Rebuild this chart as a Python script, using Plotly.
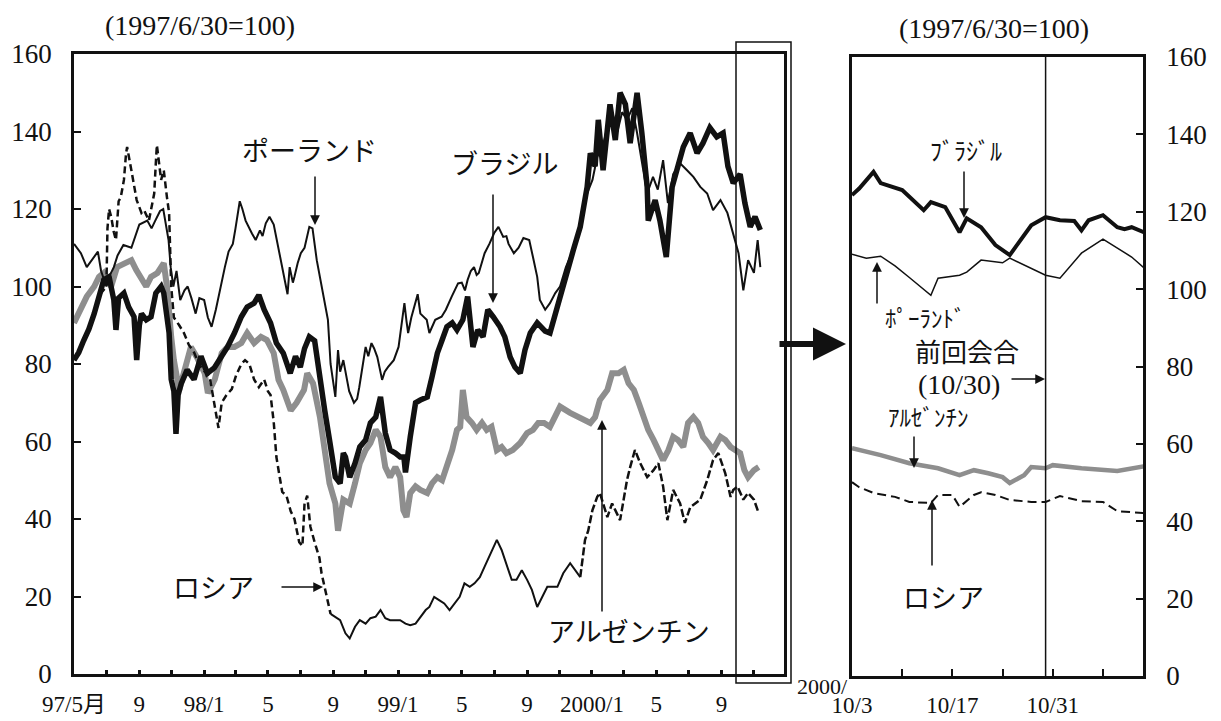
import plotly.graph_objects as go

# ---------------- data (left panel, 1997/6/30 = 100) ----------------
poland_dates = ["1997-05-01","1997-05-14","1997-05-25","1997-06-08","1997-06-15","1997-06-21","1997-07-01","1997-07-08","1997-07-15","1997-07-22","1997-08-02","1997-08-17","1997-08-25","1997-09-01","1997-09-16","1997-09-24","1997-10-01","1997-10-10","1997-10-16","1997-10-20","1997-10-26","1997-10-30","1997-11-04","1997-11-10","1997-11-17","1997-11-25","1997-12-01","1997-12-08","1997-12-16","1997-12-23","1998-01-01","1998-01-08","1998-01-15","1998-01-23","1998-02-01","1998-02-09","1998-02-16","1998-02-24","1998-03-01","1998-03-09","1998-03-14","1998-03-20","1998-04-01","1998-04-08","1998-04-16","1998-04-21","1998-04-27","1998-05-04","1998-05-12","1998-05-19","1998-05-27","1998-06-02","1998-06-07","1998-06-11","1998-06-17","1998-06-20","1998-06-26","1998-07-02","1998-07-09","1998-07-18","1998-07-24","1998-08-01","1998-08-10","1998-08-16","1998-08-22","1998-08-27","1998-09-01","1998-09-05","1998-09-10","1998-09-14","1998-09-20","1998-09-25","1998-10-01","1998-10-10","1998-10-16","1998-10-20","1998-11-01","1998-11-06","1998-11-12","1998-11-17","1998-11-23","1998-12-02","1998-12-07","1998-12-13","1998-12-24","1999-01-02","1999-01-07","1999-01-13","1999-01-17","1999-01-20","1999-01-26","1999-02-01","1999-02-07","1999-02-12","1999-02-24","1999-03-01","1999-03-07","1999-03-12","1999-03-24","1999-04-01","1999-04-12","1999-04-24","1999-05-01","1999-05-07","1999-05-12","1999-05-18","1999-05-24","1999-05-29","1999-06-02","1999-06-08","1999-06-13","1999-06-22","1999-07-01","1999-07-09","1999-07-14","1999-07-18","1999-07-24","1999-07-28","1999-08-07","1999-08-16","1999-08-25","1999-09-05","1999-09-12","1999-09-20","1999-09-25","1999-10-05","1999-10-14","1999-10-24","1999-11-02","1999-11-13","1999-11-24","1999-12-02","1999-12-13","1999-12-23","2000-01-02","2000-01-11","2000-01-21","2000-01-30","2000-02-08","2000-02-18","2000-02-27","2000-03-07","2000-03-17","2000-03-26","2000-04-04","2000-04-14","2000-04-25","2000-05-04","2000-05-14","2000-05-23","2000-06-02","2000-06-15","2000-06-28","2000-07-10","2000-07-23","2000-08-05","2000-08-16","2000-08-30","2000-09-12","2000-09-23","2000-10-03","2000-10-12","2000-10-21","2000-11-01","2000-11-08","2000-11-13"]
poland_vals = [111,108.6,105,107.6,109,104,100,103,105,108,110.7,110,113,116,117,115,117,119.5,120,117,112,105,100,104,96.5,99,100,97,93,97,96.5,92,89.6,94,100,105,109,111,115,122,120,117,113.7,112,114.5,113,116.3,118,116,111,106,101.7,98,105,101,102.5,106,108.6,110,115.4,115,106.8,100,96,91.4,80,75.9,71.5,83.6,78,81,77,73,70,71,74,84.4,82,85.4,84,81.8,75.9,78,79.2,81,84.4,90,95.7,91,88,92,94.7,98,93,91.4,88,90,91.4,92.2,94,97.4,100.8,101,99,101.7,104,105,103,103.5,106,108.6,111,113.8,115.4,114,112.8,113,111,108.6,110,112.5,112,107.6,102.5,96.5,94,95.7,98.3,100,105,108.6,112,117,124,127.5,133.5,136,141,145,140,145,143,146,139.6,132.6,124,128.3,125,132.6,121.5,129,131.8,130,128.3,125.7,124,119.7,122.3,119,113.8,108.6,99,106.8,103.5,112,105]

brazil_dates = ["1997-05-01","1997-05-10","1997-05-19","1997-05-29","1997-06-08","1997-06-17","1997-06-26","1997-07-06","1997-07-15","1997-07-19","1997-07-24","1997-08-03","1997-08-12","1997-08-22","1997-08-27","1997-09-01","1997-09-05","1997-09-14","1997-09-23","1997-10-02","1997-10-12","1997-10-17","1997-10-23","1997-10-27","1997-10-31","1997-11-05","1997-11-09","1997-11-13","1997-11-19","1997-11-30","1997-12-13","1997-12-26","1998-01-07","1998-01-20","1998-02-02","1998-02-14","1998-02-27","1998-03-12","1998-03-23","1998-04-05","1998-04-14","1998-04-24","1998-05-06","1998-05-17","1998-05-30","1998-06-12","1998-06-22","1998-07-01","1998-07-09","1998-07-18","1998-07-28","1998-08-06","1998-08-16","1998-08-25","1998-09-05","1998-09-14","1998-09-20","1998-09-24","1998-10-02","1998-10-12","1998-10-21","1998-11-01","1998-11-10","1998-11-20","1998-11-29","1998-12-08","1998-12-17","1998-12-27","1999-01-05","1999-01-12","1999-01-15","1999-01-24","1999-02-03","1999-02-12","1999-02-25","1999-03-06","1999-03-16","1999-03-25","1999-04-03","1999-04-13","1999-04-22","1999-05-03","1999-05-12","1999-05-22","1999-05-31","1999-06-10","1999-06-19","1999-06-29","1999-07-12","1999-07-21","1999-07-31","1999-08-09","1999-08-19","1999-08-28","1999-09-07","1999-09-20","1999-09-26","1999-10-05","1999-10-14","1999-10-24","1999-11-02","1999-11-15","1999-11-27","1999-12-10","1999-12-23","1999-12-29","2000-01-07","2000-01-13","2000-01-22","2000-02-04","2000-02-14","2000-02-23","2000-03-04","2000-03-13","2000-03-26","2000-04-04","2000-04-14","2000-04-16","2000-04-29","2000-05-08","2000-05-20","2000-05-31","2000-06-10","2000-06-21","2000-07-04","2000-07-17","2000-07-28","2000-08-10","2000-08-23","2000-09-04","2000-09-13","2000-09-23","2000-10-06","2000-10-15","2000-10-25","2000-11-03","2000-11-13"]
brazil_vals = [81,83,86,89,93,97,101.7,102.5,96.5,88.8,97,98.3,94.7,92.2,81,90,93,91.4,92.2,98.3,100,98.3,92,88,76,73,62,72,75,78.5,76,82,77.6,79,81.8,84.4,88,92.2,94.7,95.7,97.8,94,90.6,85.4,82.8,77.6,82,79.2,84,87,86,76.7,68,60.4,50.8,49.2,57,56,50.8,54.4,58.6,60.4,64.8,66.3,71.5,62.2,57.8,57,56,56,52,61.2,70,70.7,71.5,76.7,82.8,86.2,89.6,90.6,88.8,91.4,97.4,84.4,88.8,87,94,92.2,89.6,87,81.8,79.2,77.6,83.6,88,90.6,89.6,88.5,88,93,98,104,109.4,115.4,125.7,134.4,131,143,130,147,137.8,150,147,137,150,139.6,125.7,117,122.3,117,107.6,125.7,131,136,139.6,134.4,137,141,138.6,139.6,131,126.7,129,121.5,115.4,118,114.6]

argentina_dates = ["1997-05-01","1997-05-14","1997-05-25","1997-06-08","1997-06-17","1997-06-26","1997-07-10","1997-07-21","1997-08-03","1997-08-17","1997-08-26","1997-09-05","1997-09-14","1997-09-23","1997-10-05","1997-10-17","1997-10-23","1997-10-31","1997-11-05","1997-11-15","1997-11-24","1997-12-07","1997-12-18","1998-01-02","1998-01-08","1998-01-21","1998-02-03","1998-02-14","1998-02-27","1998-03-12","1998-03-23","1998-04-05","1998-04-18","1998-04-29","1998-05-12","1998-05-21","1998-05-30","1998-06-13","1998-06-24","1998-07-08","1998-07-14","1998-07-25","1998-08-07","1998-08-16","1998-08-25","1998-09-05","1998-09-10","1998-09-20","1998-10-02","1998-10-12","1998-10-21","1998-11-01","1998-11-10","1998-11-20","1998-11-29","1998-12-08","1998-12-17","1998-12-27","1999-01-05","1999-01-11","1999-01-17","1999-01-24","1999-02-03","1999-02-12","1999-02-25","1999-03-06","1999-03-16","1999-03-25","1999-04-03","1999-04-13","1999-04-22","1999-04-28","1999-05-03","1999-05-10","1999-05-20","1999-05-29","1999-06-08","1999-06-17","1999-06-26","1999-07-06","1999-07-15","1999-07-24","1999-08-05","1999-08-19","1999-09-01","1999-09-12","1999-09-22","1999-10-03","1999-10-14","1999-11-02","1999-11-21","1999-12-10","1999-12-29","2000-01-07","2000-01-16","2000-01-30","2000-02-08","2000-02-20","2000-03-01","2000-03-10","2000-03-20","2000-03-29","2000-04-07","2000-04-16","2000-04-26","2000-05-05","2000-05-14","2000-05-24","2000-06-02","2000-06-11","2000-06-21","2000-06-30","2000-07-10","2000-07-19","2000-07-28","2000-08-07","2000-08-16","2000-08-30","2000-09-08","2000-09-18","2000-09-27","2000-10-06","2000-10-14","2000-10-21","2000-11-01","2000-11-10"]
argentina_vals = [90.6,94,97.4,100,102.5,103.5,100,105,106,106.8,104.3,101.7,100,102.5,103.5,106,100,87,81,73.3,78.5,84.4,81.8,77.6,72.5,76,82.8,84.4,84.4,85.4,88,85.4,87,86.2,82.8,75.9,73.3,68,70,73.3,77.6,75,66.3,57.8,49.2,44,37,45,44,49.2,54.4,57.8,59.6,63,61.2,53.4,50.8,53.4,50.8,42.3,40.5,46.7,48.4,47.5,46.7,49.2,50.8,50,53.4,57.8,63,63.8,73.3,66.3,64.8,63,64.8,63,63.8,57.8,58.6,57,57.8,59.6,62.2,63,64.8,64.8,63.8,69,67.4,66.3,64.8,66.3,70.7,73.3,77.6,77.6,78.5,75,73.3,70,66.3,63,60.4,57.8,55.2,57.8,61.2,60.4,58.6,64.8,66.3,64.8,61.2,59.6,57.8,61.2,60.4,58.6,57.8,57,52.6,50.8,52.6,53.4]

# Russia: three stretches (dashed / solid / dashed as printed)
russia1_dates = ["1997-06-19","1997-07-01","1997-07-03","1997-07-06","1997-07-10","1997-07-15","1997-07-19","1997-07-24","1997-07-28","1997-08-03","1997-08-07","1997-08-09","1997-08-17","1997-08-22","1997-08-27","1997-09-05","1997-09-10","1997-09-19","1997-09-29","1997-10-02","1997-10-04","1997-10-12","1997-10-17","1997-10-23","1997-10-27","1997-10-31","1997-11-05","1997-11-15","1997-11-24","1997-12-03","1997-12-13","1997-12-22","1998-01-02","1998-01-11","1998-01-20","1998-01-28","1998-02-03","1998-02-12","1998-02-22","1998-03-02","1998-03-12","1998-03-19","1998-03-27","1998-04-05","1998-04-14","1998-04-24","1998-05-01","1998-05-06","1998-05-12","1998-05-17","1998-05-23","1998-05-28","1998-06-05","1998-06-13","1998-06-20","1998-06-29","1998-07-05","1998-07-09","1998-07-14","1998-07-20","1998-07-28","1998-08-06","1998-08-10","1998-08-16","1998-08-22","1998-08-27"]
russia1_vals = [98,100,115,120,118,114,112,122,123,127.5,134.4,136,130,125.7,122.3,119,119.7,117,124,131.8,136.5,127.5,130,123,119,100,92,90,88,85,83,80,78,77,70,63.5,70,72,73.5,77,80,81,80,76,74,76,73,72,65,56,51,47,46,42,40,34,33,44,46,38,34,30,26,22.5,19,15.5]
russia2_dates = ["1998-08-27","1998-09-05","1998-09-14","1998-09-24","1998-10-02","1998-10-12","1998-10-21","1998-11-01","1998-11-10","1998-11-20","1998-11-29","1998-12-08","1998-12-17","1998-12-27","1999-01-05","1999-01-15","1999-01-24","1999-02-03","1999-02-12","1999-02-22","1999-03-01","1999-03-10","1999-03-20","1999-03-29","1999-04-08","1999-04-17","1999-04-27","1999-05-06","1999-05-16","1999-05-25","1999-06-04","1999-06-13","1999-06-22","1999-07-06","1999-07-15","1999-07-24","1999-08-03","1999-08-12","1999-08-22","1999-09-01","1999-09-10","1999-09-20","1999-10-09","1999-10-28","1999-11-08","1999-11-21","1999-12-04","1999-12-10"]
russia2_vals = [15.5,14.8,13.9,10.5,9.2,12.2,13.9,13,14.4,14.8,16.5,14.4,13.9,13.9,13.9,13,12.6,13,14.8,16.5,17.3,19.9,19,18.2,16.5,18.2,19.9,23.4,22.5,23.4,25,27.7,30.3,34.6,32,28.6,24.3,24.3,26.8,24.3,21.7,17.3,22.5,22.5,26,28.6,26,25]
russia3_dates = ["1999-12-10","1999-12-19","1999-12-25","2000-01-02","2000-01-11","2000-01-16","2000-01-30","2000-02-08","2000-02-23","2000-03-07","2000-03-13","2000-03-22","2000-04-01","2000-04-14","2000-04-26","2000-05-05","2000-05-14","2000-05-22","2000-06-02","2000-06-15","2000-06-24","2000-07-04","2000-07-23","2000-08-05","2000-08-16","2000-08-26","2000-09-08","2000-09-18","2000-09-23","2000-10-01","2000-10-12","2000-10-21","2000-11-01","2000-11-10"]
russia3_vals = [25,34.6,37,42.3,45.7,46.7,40.5,44,39.7,50,53.4,57.8,54.4,50.8,52.6,54.4,48.4,39.7,47.5,44,39,43,45,50,55.2,57,51.8,45.7,47.5,48.4,45,46.7,45,41.5]

# ---------------- data (right panel, Oct-Nov 2000) ----------------
r_brazil_dates = ["2000-10-03","2000-10-04","2000-10-06","2000-10-07","2000-10-10","2000-10-11","2000-10-13","2000-10-14","2000-10-16","2000-10-18","2000-10-19","2000-10-21","2000-10-23","2000-10-25","2000-10-28","2000-10-30","2000-11-01","2000-11-03","2000-11-04","2000-11-05","2000-11-07","2000-11-09","2000-11-10","2000-11-11","2000-11-13"]
r_brazil_vals = [124.3,126,130.3,127.4,125.6,123.8,120.4,122.5,121.2,114.7,118.3,116,111.4,108.8,116.5,118.6,117.8,117.6,115.2,117.8,119.1,116,115.5,116,114.5]
r_poland_dates = ["2000-10-03","2000-10-05","2000-10-07","2000-10-09","2000-10-11","2000-10-12","2000-10-14","2000-10-15","2000-10-18","2000-10-19","2000-10-21","2000-10-24","2000-10-25","2000-10-30","2000-11-01","2000-11-04","2000-11-07","2000-11-11","2000-11-13"]
r_poland_vals = [109,108,108.5,106,103,101.5,98.4,102.8,103.6,104.4,107.5,106.8,108,103.6,102.8,109.3,112.9,108.3,105]
r_argentina_dates = ["2000-10-03","2000-10-07","2000-10-11","2000-10-15","2000-10-18","2000-10-20","2000-10-22","2000-10-24","2000-10-25","2000-10-27","2000-10-28","2000-10-30","2000-10-31","2000-11-04","2000-11-09","2000-11-13"]
r_argentina_vals = [58.9,57.1,55,53.7,51.9,53.2,52.4,51.4,49.9,51.9,54,53.7,54.5,53.7,53,54.3]
r_russia_dates = ["2000-10-03","2000-10-04","2000-10-06","2000-10-09","2000-10-11","2000-10-14","2000-10-15","2000-10-17","2000-10-18","2000-10-20","2000-10-21","2000-10-23","2000-10-25","2000-10-28","2000-10-30","2000-11-01","2000-11-04","2000-11-07","2000-11-09","2000-11-13"]
r_russia_vals = [50.1,48.8,47.3,46.3,45,44.7,46.8,46.8,43.7,46.8,47.5,46.8,45.5,45,45,46.5,45.2,45,42.6,42.1]

meeting_date = "2000-10-30"

left_tickvals = ["1997-05-01","1997-07-01","1997-09-01","1997-11-01","1998-01-01","1998-03-01","1998-05-01","1998-07-01","1998-09-01","1998-11-01","1999-01-01","1999-03-01","1999-05-01","1999-07-01","1999-09-01","1999-11-01","2000-01-01","2000-03-01","2000-05-01","2000-07-01","2000-09-01","2000-11-01"]
left_ticktext = ["97/5月","","9","","98/1","","5","","9","","99/1","","5","","9","","2000/1","","5","","9",""]
right_tickvals = ["2000-10-03","2000-10-10","2000-10-17","2000-10-24","2000-10-31","2000-11-07"]
right_ticktext = ["10/3","","10/17","","10/31",""]
y_ticks = [0,20,40,60,80,100,120,140,160]

# ---------------- layout placement helpers ----------------
# The page body adds an 8 px margin, so the figure is drawn 8 px smaller
# and positions (given in window pixels) are shifted accordingly.
OFF = 8
FW, FH = 1221 - OFF, 721 - OFF
def px(x):
    return (x - OFF) / FW
def py(y):
    return 1 - (y - OFF) / FH

BLACK = "#111111"
GRAY = "#8e8e8e"
JP = "Noto Sans CJK JP"
NUM = "Liberation Serif, Noto Sans CJK JP"

fig = go.Figure()

# left panel
fig.add_trace(go.Scatter(x=argentina_dates, y=argentina_vals, mode="lines",
                         line=dict(color=GRAY, width=6), xaxis="x", yaxis="y"))
fig.add_trace(go.Scatter(x=russia1_dates, y=russia1_vals, mode="lines",
                         line=dict(color=BLACK, width=2.5, dash="7px,4px"), xaxis="x", yaxis="y"))
fig.add_trace(go.Scatter(x=russia2_dates, y=russia2_vals, mode="lines",
                         line=dict(color=BLACK, width=2), xaxis="x", yaxis="y"))
fig.add_trace(go.Scatter(x=russia3_dates, y=russia3_vals, mode="lines",
                         line=dict(color=BLACK, width=2.5, dash="8px,3px"), xaxis="x", yaxis="y"))
fig.add_trace(go.Scatter(x=poland_dates, y=poland_vals, mode="lines",
                         line=dict(color=BLACK, width=2), xaxis="x", yaxis="y"))
fig.add_trace(go.Scatter(x=brazil_dates, y=brazil_vals, mode="lines",
                         line=dict(color=BLACK, width=5.5), xaxis="x", yaxis="y"))

# right panel
fig.add_trace(go.Scatter(x=r_argentina_dates, y=r_argentina_vals, mode="lines",
                         line=dict(color=GRAY, width=4.5), xaxis="x2", yaxis="y2"))
fig.add_trace(go.Scatter(x=r_russia_dates, y=r_russia_vals, mode="lines",
                         line=dict(color=BLACK, width=2, dash="9px,5px"), xaxis="x2", yaxis="y2"))
fig.add_trace(go.Scatter(x=r_poland_dates, y=r_poland_vals, mode="lines",
                         line=dict(color=BLACK, width=1.5), xaxis="x2", yaxis="y2"))
fig.add_trace(go.Scatter(x=r_brazil_dates, y=r_brazil_vals, mode="lines",
                         line=dict(color=BLACK, width=4), xaxis="x2", yaxis="y2"))

axis_common = dict(showline=True, linecolor=BLACK, linewidth=2.5, mirror=True, automargin=False,
                   showgrid=False, zeroline=False, ticks="inside", tickcolor=BLACK)

fig.update_layout(
    template="none",
    width=FW, height=FH, autosize=False,
    margin=dict(l=0, r=0, t=0, b=0, pad=0),
    paper_bgcolor="white", plot_bgcolor="white",
    showlegend=False,
    xaxis=dict(domain=[px(74), px(784)], anchor="y", type="date",
               range=["1997-05-01", "2000-12-27 14:00"],
               tickmode="array", tickvals=left_tickvals, ticktext=left_ticktext,
               ticklen=4, tickwidth=3, ticklabelstandoff=8,
               tickfont=dict(family=NUM, size=23, color=BLACK), **axis_common),
    yaxis=dict(domain=[py(674), py(54)], anchor="x", range=[0, 160],
               tickmode="array", tickvals=y_ticks, ticklen=7, tickwidth=2,
               ticklabelstandoff=14,
               tickfont=dict(family=NUM, size=27, color=BLACK), **axis_common),
    xaxis2=dict(domain=[px(852), px(1143)], anchor="y2", type="date",
                range=["2000-10-03", "2000-11-12 14:00"],
                tickmode="array", tickvals=right_tickvals, ticktext=right_ticktext,
                ticklen=7, tickwidth=2, ticklabelstandoff=7,
                tickfont=dict(family=NUM, size=23, color=BLACK), **axis_common),
    yaxis2=dict(domain=[py(676), py(57)], anchor="x2", side="right", range=[0, 160],
                tickmode="array", tickvals=y_ticks, ticklen=7, tickwidth=2,
                ticklabelstandoff=15,
                tickfont=dict(family=NUM, size=27, color=BLACK), **axis_common),
)

shapes = [
    # highlight box around Oct-Nov 2000 on the left panel
    dict(type="rect", xref="paper", yref="paper", x0=px(736), x1=px(791), y0=py(683), y1=py(42),
         line=dict(color=BLACK, width=1.5), fillcolor="rgba(0,0,0,0)"),
    # previous meeting line in the right panel
    dict(type="line", xref="x2", yref="y2 domain", x0=meeting_date, x1=meeting_date, y0=0, y1=1,
         line=dict(color=BLACK, width=1.5)),
]
fig.update_layout(shapes=shapes)

ann = []
def text(x, y, s, size=27, family=JP, xanchor="center"):
    ann.append(dict(x=px(x), y=py(y), xref="paper", yref="paper", text=s, showarrow=False,
                    xanchor=xanchor, yanchor="middle", font=dict(family=family, size=size, color=BLACK)))
def arrow(x, y, dx, dy, width=1.5, size=1.3):
    ann.append(dict(x=px(x), y=py(y), xref="paper", yref="paper", text="", showarrow=True,
                    ax=dx, ay=dy, axref="pixel", ayref="pixel", arrowhead=2, arrowsize=size,
                    arrowwidth=width, arrowcolor=BLACK))

# headers
text(200, 25, "(1997/6/30=100)", size=28, family=NUM)
text(994, 28, "(1997/6/30=100)", size=28, family=NUM)

# left labels
text(309, 150, "ポーランド")
arrow(315, 225, 0, -50)
text(504, 163, "ブラジル")
arrow(493, 303, 0, -110)
text(213, 586, "ロシア")
arrow(323, 587, -43, 0)
text(629, 630, "アルゼンチン")
arrow(602, 420, 0, 193)

# link arrow between panels
arrow(846, 344, -68, 0, width=6, size=1.1)

# right labels
text(966, 150, "ﾌﾞﾗｼﾞﾙ", size=24)
arrow(964, 218, 0, -48)
text(925, 317, "ﾎﾟｰﾗﾝﾄﾞ", size=23)
arrow(877, 262, 0, 43)
text(967, 351, "前回会合", size=26)
text(959, 384, "(10/30)", size=28, family=NUM)
arrow(1045, 379, -35, 0)
text(928, 416, "ｱﾙｾﾞﾝﾁﾝ", size=23)
arrow(914, 468, 0, -33)
text(943, 596, "ロシア", size=27)
arrow(932, 500, 0, 67)

# year prefix of the right panel's dates
text(850, 686, "2000/", size=22, family=NUM, xanchor="right")

fig.update_layout(annotations=ann)

fig.write_html("out.html")
